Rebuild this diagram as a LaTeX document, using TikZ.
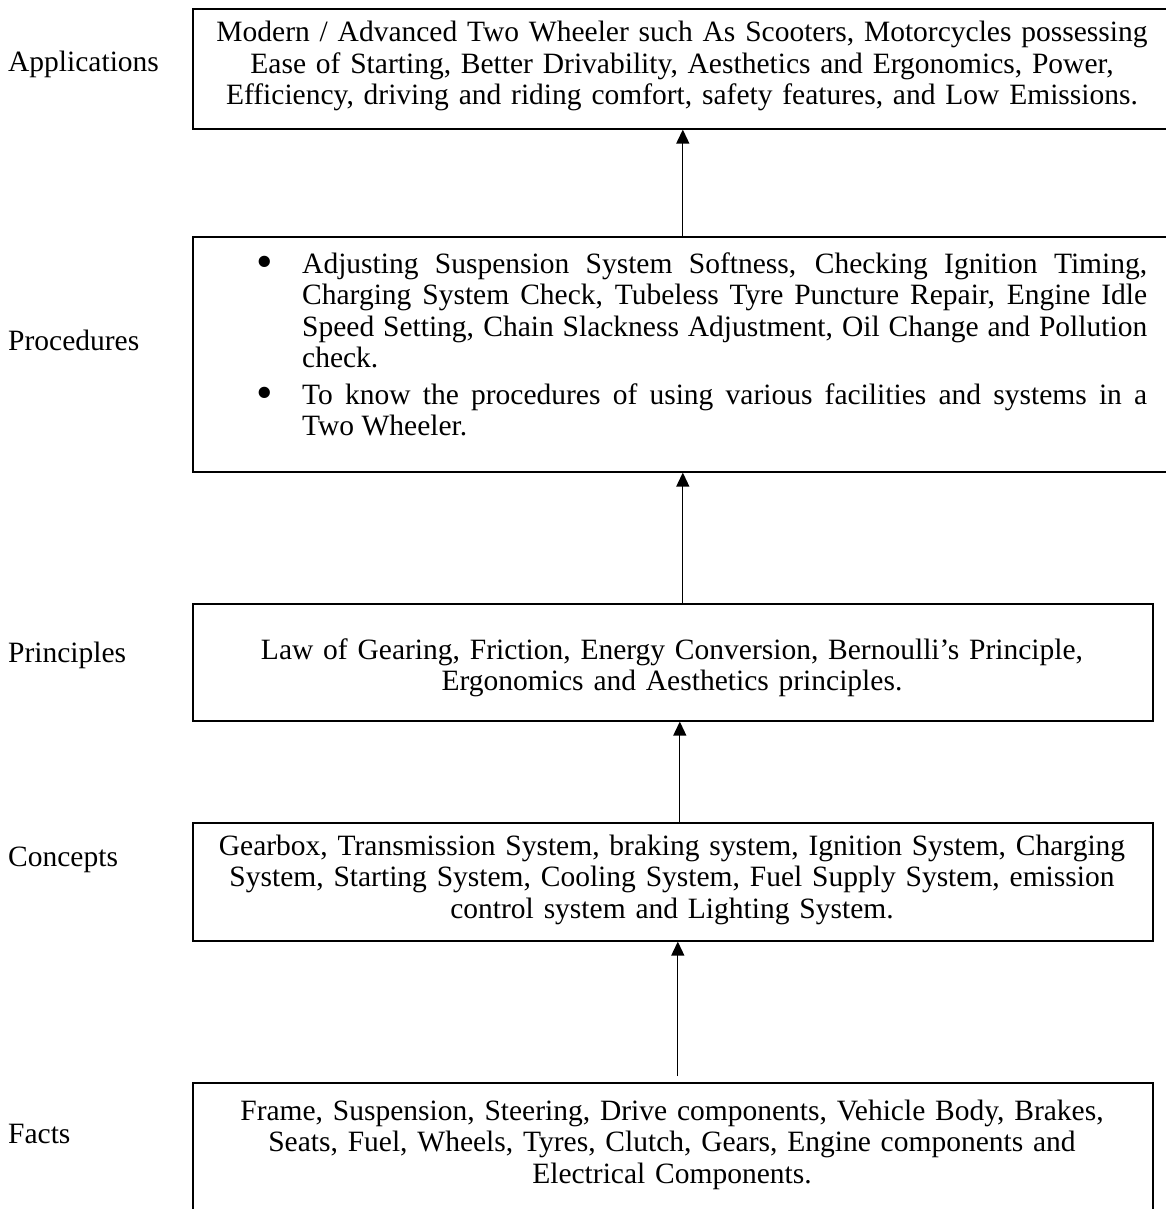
\documentclass[tikz,border=0pt]{standalone}
\usepackage{fontspec}
\usepackage{graphicx}
\setmainfont{Liberation Serif}
\usetikzlibrary{arrows.meta}
\tolerance=9999
\hbadness=10000
\newcommand{\bigdot}{\makebox[45pt][l]{\hspace{-1pt}\raisebox{-4pt}{\scalebox{1.6}{\textbullet}}}}
\begin{document}
\begin{tikzpicture}[x=1pt,y=-1pt,
  box/.style={draw, line width=1.6pt, rectangle, inner sep=0pt, anchor=north west},
  body/.style={anchor=base, inner sep=0pt, align=center, font=\fontsize{29.5}{31.5}\selectfont},
  tag/.style={anchor=base west, inner sep=0pt, font=\fontsize{29.5}{31.5}\selectfont},
  up/.style={line width=1.3pt, -{Triangle[length=14pt,width=13pt]}}]
\useasboundingbox (0,0) rectangle (1166,1209);
\clip (0,0) rectangle (1166,1209);

% level boxes
\node[box, minimum width=980pt, minimum height=120pt] (app)   at (192,8)    {};
\node[box, minimum width=980pt, minimum height=235pt] (proc)  at (192,236)  {};
\node[box, minimum width=960pt, minimum height=117pt] (princ) at (192,603)  {};
\node[box, minimum width=960pt, minimum height=118pt] (conc)  at (192,822)  {};
\node[box, minimum width=960pt, minimum height=160pt] (facts) at (192,1082) {};

% level names
\node[tag] (lapp)   at (8,72)   {Applications};
\node[tag] (lproc)  at (8,350)  {Procedures};
\node[tag] (lprinc) at (8,662)  {Principles};
\node[tag] (lconc)  at (8,866)  {Concepts};
\node[tag] (lfacts) at (8,1143) {Facts};

% box contents
\node[body, text width=980pt] (tapp) at (682,42)
  {Modern / Advanced Two Wheeler such As Scooters, Motorcycles possessing\\
   Ease of Starting, Better Drivability, Aesthetics and Ergonomics, Power,\\
   Efficiency, driving and riding comfort, safety features, and Low Emissions.};

\node[anchor=base west, inner sep=0pt, text width=890pt, align=justify,
      font=\fontsize{29.5}{31.5}\selectfont] (tproc) at (257,273)
  {\bigdot\hangindent=45pt\hangafter=1 Adjusting Suspension System Softness, Checking Ignition Timing,\linebreak
   Charging System Check, Tubeless Tyre Puncture Repair, Engine Idle\linebreak
   Speed Setting, Chain Slackness Adjustment, Oil Change and Pollution\linebreak
   check.\par\vspace{5pt}
   \bigdot\hangindent=45pt\hangafter=1 To know the procedures of using various facilities and systems in a\linebreak
   Two Wheeler.\par};

\node[body, text width=960pt] (tprinc) at (672,659)
  {Law of Gearing, Friction, Energy Conversion, Bernoulli’s Principle,\\
   Ergonomics and Aesthetics principles.};

\node[body, text width=960pt] (tconc) at (672,855)
  {Gearbox, Transmission System, braking system, Ignition System, Charging\\
   System, Starting System, Cooling System, Fuel Supply System, emission\\
   control system and Lighting System.};

\node[body, text width=960pt] (tfacts) at (672,1120)
  {Frame, Suspension, Steering, Drive components, Vehicle Body, Brakes,\\
   Seats, Fuel, Wheels, Tyres, Clutch, Gears, Engine components and\\
   Electrical Components.};

% upward links between levels
\draw[up] (proc.north) -- (app.south);
\draw[up] (princ.north -| proc.south) -- (proc.south);
\draw[up] ([xshift=7pt]conc.north) -- ([xshift=7pt]conc.north |- princ.south);
\draw[up] ([xshift=5pt,yshift=6pt]facts.north) -- ([xshift=5pt]facts.north |- conc.south);
\end{tikzpicture}
\end{document}
